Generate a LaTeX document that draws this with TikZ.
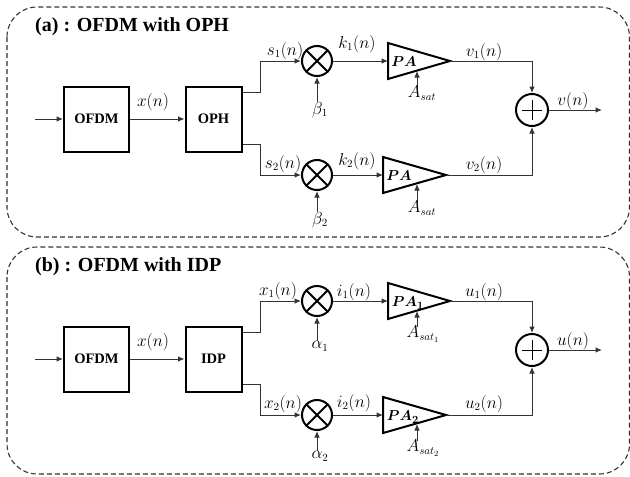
\documentclass[tikz,border=0pt]{standalone}
\usepackage{amsmath}
\usepackage{fontspec}
\setmainfont{Liberation Serif}
\usetikzlibrary{arrows.meta,calc}
\begin{document}
\begin{tikzpicture}[x=1pt,y=-1pt,
  panel/.style={draw=black!80, line width=1.1pt, dash pattern=on 5pt off 3pt, rounded corners=30pt},
  blk/.style={draw, line width=2pt, minimum width=65pt, minimum height=65pt, font=\fontsize{14.5}{16}\selectfont\bfseries, inner sep=0pt},
  conn/.style={draw=black!80, line width=1pt, -{Latex[length=6.5pt,width=5.5pt]}},
  mult/.style={circle, draw, line width=2pt, minimum size=30pt, inner sep=0pt},
  sumn/.style={circle, draw, line width=2pt, minimum size=32pt, inner sep=0pt,
    path picture={\draw[line width=0.9pt] ($(path picture bounding box.center)+(-10,0)$) -- +(20,0);
                  \draw[line width=0.9pt] ($(path picture bounding box.center)+(0,-10)$) -- +(0,20);}},
  lbl/.style={font=\fontsize{16}{18}\selectfont, inner sep=0pt},
  palbl/.style={font=\fontsize{15}{17}\selectfont, inner sep=0pt},
  ttl/.style={font=\fontsize{20}{22}\selectfont\bfseries, anchor=base west, inner sep=0pt},
  amp/.style={draw, line width=2pt, line join=miter}
]
\useasboundingbox (0,0) rectangle (630,477);

% ================= Panel (a) =================
\draw[panel] (7,7) rectangle (629.5,237);
\node[ttl] (ta) at (35,31) {(a) : OFDM with OPH};
\node[blk] (ofdma) at (96.5,119) {OFDM};
\node[blk, minimum width=56pt] (opha) at (213.5,119) {OPH};
\coordinate (ina) at (35,119);
\draw[conn] (ina) -- (ofdma);
\draw[conn] (ofdma) -- (opha);
\node[lbl] (xa) at (153,102) {$x(n)$};

\node[mult] (m1a) at (317,61) {};
\node[mult] (m2a) at (317,175) {};
\foreach \m in {m1a,m2a}{
  \draw[line width=2pt] (\m.45) -- (\m.225);
  \draw[line width=2pt] (\m.135) -- (\m.315);
}
\draw[conn] ($(opha.north east)+(0,7)$) -- ++(18,0) |- (m1a);
\draw[conn] ($(opha.south east)+(0,-8)$) -- ++(18,0) |- (m2a);
\node[lbl] (s1a) at (285,51) {$s_1(n)$};
\node[lbl] (s2a) at (283,164) {$s_2(n)$};

\node[lbl] (b1a) at (320,110) {$\beta_1$};
\node[lbl] (b2a) at (320,220) {$\beta_2$};
\draw[conn] (b1a.north -| m1a.south) -- (m1a.south);
\draw[conn] (b2a.north -| m2a.south) -- (m2a.south);

% PA triangles
\coordinate (p1ai) at (388,61);
\coordinate (p1ao) at (450,61);
\draw[amp] (388,43) -- (p1ao) -- (388,79) -- cycle;
\coordinate (p2ai) at (383,175);
\coordinate (p2ao) at (446,175);
\draw[amp] (383,157) -- (p2ao) -- (383,193) -- cycle;
\node[palbl] (pa1a) at (404,62) {$\boldsymbol{PA}$};
\node[palbl] (pa2a) at (399,176) {$\boldsymbol{PA}$};
\draw[conn] (m1a) -- (p1ai);
\draw[conn] (m2a) -- (p2ai);
\node[lbl] (k1a) at (357,44) {$k_1(n)$};
\node[lbl] (k2a) at (357,161) {$k_2(n)$};

\coordinate (as1s) at (417,89);
\coordinate (as1e) at (417,71);
\draw[conn] (as1s) -- (as1e);
\node[lbl] (asat1a) at (422,93) {$A_{sat}$};
\coordinate (as2s) at (417,203);
\coordinate (as2e) at (417,184);
\draw[conn] (as2s) -- (as2e);
\node[lbl] (asat2a) at (422,208) {$A_{sat}$};

\node[sumn] (suma) at (532,110) {};
\draw[conn] (p1ao) -| (suma.north);
\draw[conn] (p2ao) -| (suma.south);
\node[lbl] (v1a) at (484,52) {$v_1(n)$};
\node[lbl] (v2a) at (484,165) {$v_2(n)$};
\coordinate (outa) at (602,110);
\draw[conn] (suma) -- (outa);
\node[lbl] (va) at (573,101) {$v(n)$};

% ================= Panel (b) =================
\draw[panel] (7,247) rectangle (629.5,474);
\node[ttl] (tb) at (35,271) {(b) : OFDM with IDP};
\node[blk] (ofdmb) at (96.5,359) {OFDM};
\node[blk, minimum width=56pt] (idpb) at (213.5,359) {IDP};
\coordinate (inb) at (35,359);
\draw[conn] (inb) -- (ofdmb);
\draw[conn] (ofdmb) -- (idpb);
\node[lbl] (xb) at (153,342) {$x(n)$};

\node[mult] (m1b) at (317,301) {};
\node[mult] (m2b) at (317,415) {};
\foreach \m in {m1b,m2b}{
  \draw[line width=2pt] (\m.45) -- (\m.225);
  \draw[line width=2pt] (\m.135) -- (\m.315);
}
\draw[conn] ($(idpb.north east)+(0,7)$) -- ++(18,0) |- (m1b);
\draw[conn] ($(idpb.south east)+(0,-8)$) -- ++(18,0) |- (m2b);
\node[lbl] (x1b) at (278,291) {$x_1(n)$};
\node[lbl] (x2b) at (283,404) {$x_2(n)$};

\node[lbl] (a1b) at (320,346) {$\alpha_1$};
\node[lbl] (a2b) at (320,456) {$\alpha_2$};
\draw[conn] (a1b.north -| m1b.south) -- (m1b.south);
\draw[conn] (a2b.north -| m2b.south) -- (m2b.south);

\coordinate (p1bi) at (388,301);
\coordinate (p1bo) at (450,301);
\draw[amp] (388,283) -- (p1bo) -- (388,319) -- cycle;
\coordinate (p2bi) at (383,415);
\coordinate (p2bo) at (446,415);
\draw[amp] (383,397) -- (p2bo) -- (383,433) -- cycle;
\node[palbl] (pa1b) at (408,303) {$\boldsymbol{PA_1}$};
\node[palbl] (pa2b) at (403,417) {$\boldsymbol{PA_2}$};
\draw[conn] (m1b) -- (p1bi);
\draw[conn] (m2b) -- (p2bi);
\node[lbl] (i1b) at (354,292) {$i_1(n)$};
\node[lbl] (i2b) at (354,403) {$i_2(n)$};

\coordinate (bs1s) at (417,327);
\coordinate (bs1e) at (417,311);
\draw[conn] (bs1s) -- (bs1e);
\node[lbl] (asat1b) at (423,334) {$A_{sat_1}$};
\coordinate (bs2s) at (417,441);
\coordinate (bs2e) at (417,424);
\draw[conn] (bs2s) -- (bs2e);
\node[lbl] (asat2b) at (423,448) {$A_{sat_2}$};

\node[sumn] (sumb) at (532,350) {};
\draw[conn] (p1bo) -| (sumb.north);
\draw[conn] (p2bo) -| (sumb.south);
\node[lbl] (u1b) at (484,292) {$u_1(n)$};
\node[lbl] (u2b) at (484,404) {$u_2(n)$};
\coordinate (outb) at (602,350);
\draw[conn] (sumb) -- (outb);
\node[lbl] (ub) at (573,341) {$u(n)$};
\end{tikzpicture}
\end{document}
